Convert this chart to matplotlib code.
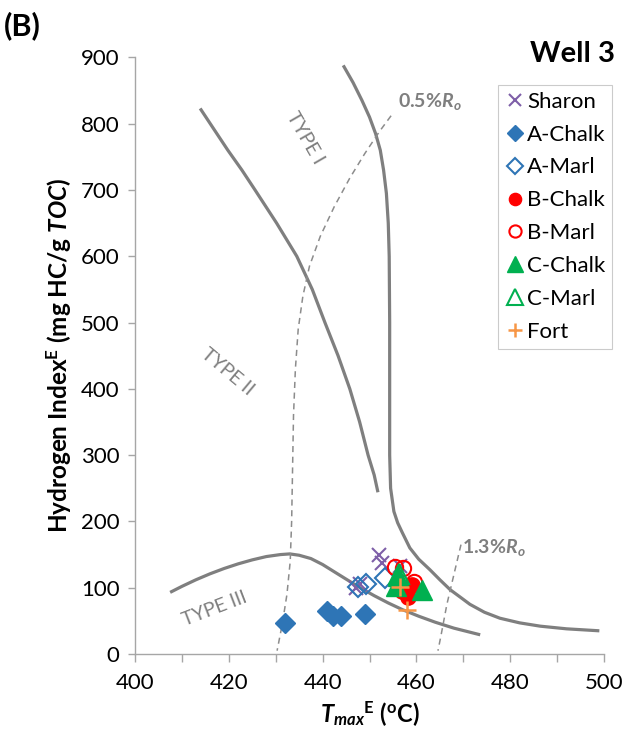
import matplotlib
matplotlib.use("Agg")
import matplotlib.pyplot as plt
from matplotlib.ticker import MultipleLocator

plt.rcParams['font.family'] = ['Lato', 'DejaVu Sans']
plt.rcParams['mathtext.fontset'] = 'custom'
plt.rcParams['mathtext.rm'] = 'Lato'
plt.rcParams['mathtext.it'] = 'Lato:italic'
plt.rcParams['mathtext.bf'] = 'Lato:bold'
plt.rcParams['mathtext.bfit'] = 'Lato:bold:italic'

# kerogen type boundaries (Tmax, HI)
type1_t = [444.4, 446.5, 448.4, 450.0, 451.3, 452.3, 453.0, 453.6, 454.0, 454.2, 454.3, 454.3,
           454.3, 454.5, 455.2, 456.0, 457.0, 458.6, 460.5, 462.9, 465.0, 467.2, 469.5, 471.4,
           474.5, 477.8, 482.0, 486.4, 492.0, 499.0]
type1_hi = [888, 862, 835, 810, 785, 760, 730, 695, 650, 600, 500, 400,
            300, 250, 215, 198, 183, 160, 143, 127, 112, 97, 85, 75,
            63, 54, 47, 42, 38, 35]
type2_t = [413.9, 416.8, 419.8, 422.8, 425.6, 430.2, 434.5, 437.8, 440.5, 443.3, 445.8, 447.9, 449.7, 451.0, 451.8]
type2_hi = [823, 792, 760, 730, 700, 650, 600, 550, 500, 450, 400, 350, 300, 270, 244]
type3_t = [407.5, 410.0, 413.0, 416.0, 419.0, 422.0, 425.0, 428.0, 431.0, 433.0, 435.0, 437.5,
           440.0, 442.5, 445.0, 448.0, 451.0, 454.0, 457.0, 460.5, 464.0, 468.0, 473.6]
type3_hi = [93, 102, 112, 121, 129, 136, 142, 147, 150, 151, 149, 144,
            135, 124, 113, 100, 88, 77, 67, 57, 48, 39, 29]

# vitrinite reflectance iso-lines
ro05_t = [454.6, 452.2, 449.0, 445.8, 442.5, 439.5, 437.2, 435.8, 434.8, 434.2, 433.8, 433.6,
          433.4, 433.1, 432.4, 431.4, 430.3]
ro05_hi = [812, 789, 755, 718, 675, 630, 585, 540, 490, 430, 360, 280,
           200, 140, 90, 45, 5]
ro13_t = [469.5, 468.0, 466.5, 465.3, 464.6]
ro13_hi = [165, 120, 75, 30, 5]

# samples
sharon_t = [452.0, 452.6, 456.5, 448.0, 447.2]
sharon_hi = [150, 137, 133, 105, 99]
achalk_t = [432.0, 441.0, 442.2, 444.0, 449.0]
achalk_hi = [47, 65, 58, 57, 60]
amarl_t = [447.5, 453.3, 449.2]
amarl_hi = [101, 115, 106]
bchalk_t = [457.0, 458.3, 459.0]
bchalk_hi = [95, 86, 104]
bmarl_t = [455.5, 457.1, 459.4]
bmarl_hi = [131, 129, 108]
cchalk_t = [456.1, 461.1, 455.7]
cchalk_hi = [118, 97, 103]
cmarl_t = [456.3]
cmarl_hi = [121]
fort_t = [456.5, 457.9]
fort_hi = [101, 66]

fig = plt.figure(figsize=(6.24, 7.36), dpi=100)
ax = fig.add_axes([0.2163, 0.1114, 0.7517, 0.8106])

curve_c = '#7F7F7F'
for t, hi in [(type1_t, type1_hi), (type2_t, type2_hi), (type3_t, type3_hi)]:
    ax.plot(t, hi, color=curve_c, lw=2.3, solid_capstyle='butt', solid_joinstyle='round', zorder=2)
for t, hi in [(ro05_t, ro05_hi), (ro13_t, ro13_hi)]:
    ax.plot(t, hi, color='#8C8C8C', lw=1.1, ls=(0, (4, 3)), zorder=2)

ax.plot(sharon_t, sharon_hi, ls='none', marker='x', ms=10, mew=1.5, color='#7E5FA8', label='Sharon', zorder=3)
ax.plot(achalk_t, achalk_hi, ls='none', marker='D', ms=10, color='#2E75B6', label='A-Chalk', zorder=3)
ax.plot(amarl_t, amarl_hi, ls='none', marker='D', ms=10, mfc='none', mew=1.5, color='#2E75B6', label='A-Marl', zorder=3)
ax.plot(bchalk_t, bchalk_hi, ls='none', marker='o', ms=11, color='#FF0000', label='B-Chalk', zorder=4)
ax.plot(bmarl_t, bmarl_hi, ls='none', marker='o', ms=11, mfc='none', mew=1.5, color='#FF0000', label='B-Marl', zorder=4)
ax.plot(cchalk_t, cchalk_hi, ls='none', marker='^', ms=14, color='#00B050', label='C-Chalk', zorder=5)
ax.plot(cmarl_t, cmarl_hi, ls='none', marker='^', ms=14, mfc='none', mew=1.5, color='#00B050', label='C-Marl', zorder=4)
ax.plot(fort_t, fort_hi, ls='none', marker='+', ms=13, mew=1.8, color='#F79646', label='Fort', zorder=6)

# labels on the curves
type_kw = dict(color=curve_c, fontsize=14, ha='center', va='center')
ax.text(436.3, 778, 'TYPE I', rotation=-60, **type_kw)
ax.text(419.8, 425, 'TYPE II', rotation=-40, **type_kw)
ax.text(417.0, 68, 'TYPE III', rotation=21, **type_kw)
ax.text(456.1, 833, r'$\mathbf{0.5\%}\mathbfit{R_o}$', color=curve_c, fontsize=14, ha='left', va='center')
ax.text(469.8, 160, r'$\mathbf{1.3\%}\mathbfit{R_o}$', color=curve_c, fontsize=14, ha='left', va='center')

ax.set_xlim(400, 500)
ax.set_ylim(0, 900)
ax.xaxis.set_major_locator(MultipleLocator(20))
ax.xaxis.set_minor_locator(MultipleLocator(10))
ax.yaxis.set_major_locator(MultipleLocator(100))
for side in ['top', 'right']:
    ax.spines[side].set_visible(False)
for side in ['left', 'bottom']:
    ax.spines[side].set_color('#A6A6A6')
    ax.spines[side].set_linewidth(1.0)
ax.tick_params(axis='x', which='both', direction='out', length=6, width=1, color='#A6A6A6',
               labelsize=16, pad=8)
ax.tick_params(axis='y', which='major', direction='out', length=5, width=1, color='#A6A6A6',
               labelsize=16, pad=6)

ax.set_xlabel(r'$\mathbfit{T}_{\mathbfit{max}}$$^{\mathbf{E}}$ ($^{\mathbf{o}}$C)', fontsize=17,
              fontweight='bold', labelpad=4)
ax.set_ylabel(r'Hydrogen Index$^{\mathbf{E}}$ (mg HC/g $\mathbfit{TOC}$)', fontsize=17.5,
              fontweight='bold', labelpad=6)

fig.text(0.006, 0.985, '(B)', fontsize=22, fontweight='bold', ha='left', va='top')
fig.text(0.986, 0.926, 'Well 3', fontsize=21, fontweight='bold', ha='right', va='center')

leg = fig.legend(loc='upper left', bbox_to_anchor=(498 / 624, 1 - 85 / 736), fontsize=16,
                 frameon=True, fancybox=False, edgecolor='#BFBFBF', borderpad=0.3,
                 handletextpad=0.05, labelspacing=0.58, handlelength=0.95, borderaxespad=0,
                 markerscale=0.8)
leg.get_frame().set_linewidth(0.8)

fig.savefig('out.png', dpi=100)
